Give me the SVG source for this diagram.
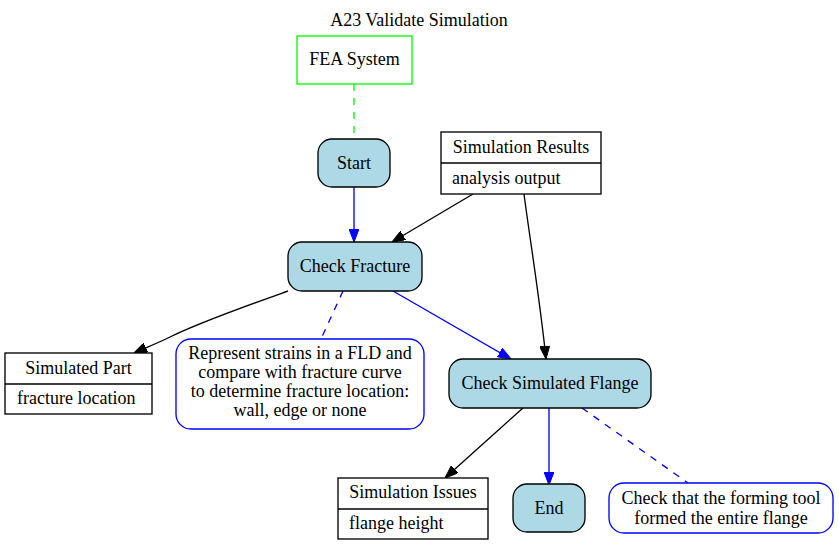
<svg xmlns="http://www.w3.org/2000/svg" width="839" height="545" viewBox="0 0 839 545">
<style>
text{font-family:"Liberation Serif","Times New Roman",serif;font-size:18px;fill:#000}
.c{text-anchor:middle}
.proc{fill:#add8e6;stroke:#000;stroke-width:1.33}
.rec{fill:#fff;stroke:#000;stroke-width:1.33}
.note{fill:#fff;stroke:#0000ff;stroke-width:1.33}
.sys{fill:#fff;stroke:#00ff00;stroke-width:1.33}
.e{fill:none;stroke:#000;stroke-width:1.33}
.eb{fill:none;stroke:#0000ff;stroke-width:1.33}
.dg{fill:none;stroke:#00ff00;stroke-width:1.33;stroke-dasharray:7,7}
.db{fill:none;stroke:#0000ff;stroke-width:1.33;stroke-dasharray:7,7}
</style>
<defs>
<marker id="ak" viewBox="0 0 13 10" refX="13" refY="5" markerWidth="13" markerHeight="10" markerUnits="userSpaceOnUse" orient="auto"><path d="M0,0L13,5L0,10z" fill="#000" stroke="#000"/></marker>
<marker id="ab" viewBox="0 0 13 10" refX="13" refY="5" markerWidth="13" markerHeight="10" markerUnits="userSpaceOnUse" orient="auto"><path d="M0,0L13,5L0,10z" fill="#0000ff" stroke="#0000ff"/></marker>
</defs>
<text class="c" x="419" y="26">A23 Validate Simulation</text>
<g id="edges">
<path class="dg" d="M354,84L354,139"/>
<path class="eb" d="M354,187L354,242" marker-end="url(#ab)"/>
<path class="e" d="M473,194L392,242" marker-end="url(#ak)"/>
<path class="e" d="M524,194C530,240 540,300 546,359" marker-end="url(#ak)"/>
<path class="e" d="M288,291C260,301 200,322 170,337C158,343 145,348 134,353" marker-end="url(#ak)"/>
<path class="db" d="M343,291L321,339"/>
<path class="eb" d="M393,291L511,359" marker-end="url(#ab)"/>
<path class="e" d="M523,408L445,478" marker-end="url(#ak)"/>
<path class="eb" d="M549,408L549,485" marker-end="url(#ab)"/>
<path class="db" d="M582,408L688,483"/>
</g>
<g id="fea">
<rect class="sys" x="297" y="36" width="115" height="48"/>
<text class="c" x="354.5" y="65">FEA System</text>
</g>
<g id="start">
<rect class="proc" x="318" y="139" width="72" height="48" rx="14"/>
<text class="c" x="354" y="169">Start</text>
</g>
<g id="simresults">
<rect class="rec" x="441" y="132" width="160" height="62"/>
<line class="rec" x1="441" y1="163" x2="601" y2="163"/>
<text class="c" x="521" y="153">Simulation Results</text>
<text x="452" y="184">analysis output</text>
</g>
<g id="checkfracture">
<rect class="proc" x="288" y="242" width="134" height="49" rx="14"/>
<text class="c" x="355" y="272">Check Fracture</text>
</g>
<g id="simpart">
<rect class="rec" x="5" y="353" width="147" height="61"/>
<line class="rec" x1="5" y1="384" x2="152" y2="384"/>
<text class="c" x="78.5" y="374">Simulated Part</text>
<text x="17" y="404">fracture location</text>
</g>
<g id="note1">
<rect class="note" x="176" y="339" width="248" height="90" rx="15"/>
<text class="c" x="300" y="359">Represent strains in a FLD and</text>
<text class="c" x="300" y="378">compare with fracture curve</text>
<text class="c" x="300" y="397">to determine fracture location:</text>
<text class="c" x="300" y="416">wall, edge or none</text>
</g>
<g id="checkflange">
<rect class="proc" x="449" y="359" width="202" height="49" rx="14"/>
<text class="c" x="550" y="389">Check Simulated Flange</text>
</g>
<g id="simissues">
<rect class="rec" x="338" y="478" width="150" height="61"/>
<line class="rec" x1="338" y1="509" x2="488" y2="509"/>
<text class="c" x="413" y="498">Simulation Issues</text>
<text x="349" y="529">flange height</text>
</g>
<g id="end">
<rect class="proc" x="513" y="484" width="72" height="48" rx="14"/>
<text class="c" x="549" y="514">End</text>
</g>
<g id="note2">
<rect class="note" x="609" y="483" width="224" height="50" rx="15"/>
<text class="c" x="721" y="504">Check that the forming tool</text>
<text class="c" x="721" y="524">formed the entire flange</text>
</g>
</svg>
